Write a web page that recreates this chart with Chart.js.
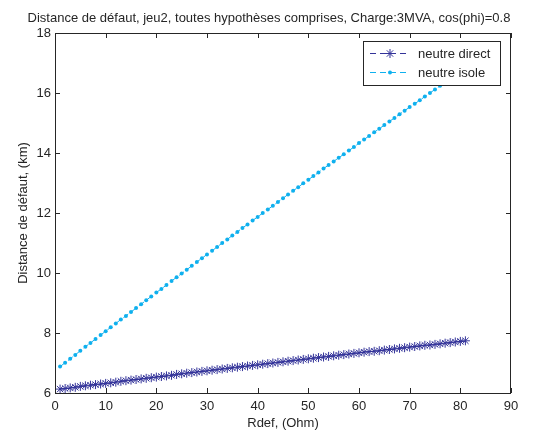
<!DOCTYPE html>
<html>
<head>
<meta charset="utf-8">
<script src="https://cdn.jsdelivr.net/npm/chart.js@4"></script>
<style>
  html, body { margin: 0; padding: 0; background: #fff; }
  #wrap { width: 546px; height: 430px; }
</style>
</head>
<body>
<div id="wrap"><canvas id="myChart" width="546" height="430"></canvas></div>
<script>
const titre = 'Distance de défaut, jeu2, toutes hypothèses comprises, Charge:3MVA, cos(phi)=0.8';
const xLabel = 'Rdef, (Ohm)';
const yLabel = 'Distance de défaut, (km)';
const seriesNames = ['neutre direct', 'neutre isole'];

const rdef = [1, 2, 3, 4, 5, 6, 7, 8, 9, 10, 11, 12, 13, 14, 15, 16, 17, 18, 19, 20,
  21, 22, 23, 24, 25, 26, 27, 28, 29, 30, 31, 32, 33, 34, 35, 36, 37, 38, 39, 40,
  41, 42, 43, 44, 45, 46, 47, 48, 49, 50, 51, 52, 53, 54, 55, 56, 57, 58, 59, 60,
  61, 62, 63, 64, 65, 66, 67, 68, 69, 70, 71, 72, 73, 74, 75, 76, 77, 78, 79, 80, 81];

const neutreDirect = [6.13, 6.15, 6.17, 6.19, 6.22, 6.24, 6.26, 6.28, 6.30, 6.32,
  6.34, 6.36, 6.39, 6.41, 6.43, 6.45, 6.47, 6.49, 6.51, 6.53,
  6.55, 6.57, 6.59, 6.62, 6.64, 6.66, 6.68, 6.70, 6.72, 6.74,
  6.76, 6.78, 6.80, 6.82, 6.84, 6.86, 6.88, 6.90, 6.92, 6.94,
  6.96, 6.98, 7.00, 7.02, 7.04, 7.06, 7.08, 7.10, 7.12, 7.14,
  7.16, 7.18, 7.20, 7.22, 7.24, 7.26, 7.28, 7.30, 7.32, 7.34,
  7.36, 7.38, 7.39, 7.41, 7.43, 7.45, 7.47, 7.49, 7.51, 7.53,
  7.55, 7.57, 7.59, 7.60, 7.62, 7.64, 7.66, 7.68, 7.70, 7.72, 7.74];

const neutreIsole = [6.88, 7.01, 7.14, 7.27, 7.41, 7.54, 7.67, 7.80, 7.93, 8.06,
  8.19, 8.32, 8.45, 8.57, 8.70, 8.83, 8.96, 9.09, 9.22, 9.35,
  9.47, 9.60, 9.73, 9.86, 9.98, 10.11, 10.24, 10.37, 10.49, 10.62,
  10.74, 10.87, 11.00, 11.12, 11.25, 11.37, 11.50, 11.62, 11.75, 11.87,
  12.00, 12.12, 12.24, 12.37, 12.49, 12.62, 12.74, 12.86, 12.99, 13.11,
  13.23, 13.35, 13.48, 13.60, 13.72, 13.84, 13.96, 14.08, 14.20, 14.33,
  14.45, 14.57, 14.69, 14.81, 14.93, 15.05, 15.17, 15.29, 15.41, 15.53,
  15.64, 15.76, 15.88, 16.00, 16.12, 16.24, 16.35, 16.47, 16.59, 16.71, 16.82];

const xTicks = [0, 10, 20, 30, 40, 50, 60, 70, 80, 90];
const yTicks = [6, 8, 10, 12, 14, 16, 18];

const couleurDirect = '#333399';
const couleurIsole = '#0fb0ee';
const texte = '#262626';
const police = '"Liberation Sans", Arial, Helvetica, sans-serif';

Chart.defaults.font.family = police;
Chart.defaults.font.size = 13;
Chart.defaults.color = texte;

// axes façon matlab : cadre, graduations vers l'intérieur, titres, légende dans le coin
const cadreMatlab = {
  id: 'cadreMatlab',
  afterDatasetsDraw(chart) {
    const ctx = chart.ctx;
    const a = chart.chartArea;
    const sx = chart.scales.x, sy = chart.scales.y;
    ctx.save();
    ctx.strokeStyle = '#262626';
    ctx.lineWidth = 1;
    ctx.beginPath();
    xTicks.forEach(function (t) {
      const px = Math.round(sx.getPixelForValue(t)) + 0.5;
      ctx.moveTo(px, a.bottom); ctx.lineTo(px, a.bottom - 5);
      ctx.moveTo(px, a.top); ctx.lineTo(px, a.top + 5);
    });
    yTicks.forEach(function (t) {
      const py = Math.round(sy.getPixelForValue(t)) + 0.5;
      ctx.moveTo(a.left, py); ctx.lineTo(a.left + 5, py);
      ctx.moveTo(a.right, py); ctx.lineTo(a.right - 5, py);
    });
    ctx.stroke();
    ctx.strokeRect(Math.round(a.left) + 0.5, Math.round(a.top) + 0.5,
      Math.round(a.right - a.left) - 1, Math.round(a.bottom - a.top));

    // légende
    const lx = 363, ly = 41, lw = 137, lh = 44;
    ctx.fillStyle = '#fff';
    ctx.fillRect(lx, ly, lw, lh);
    ctx.strokeStyle = '#262626';
    ctx.strokeRect(lx + 0.5, ly + 0.5, lw, lh);
    const rows = [
      { name: seriesNames[0], color: couleurDirect, y: 53, style: 'star' },
      { name: seriesNames[1], color: couleurIsole, y: 72, style: 'circle' }
    ];
    rows.forEach(function (r) {
      ctx.strokeStyle = r.color;
      ctx.lineWidth = 1;
      ctx.setLineDash([6, 4]);
      ctx.beginPath();
      ctx.moveTo(370, r.y + 0.5); ctx.lineTo(410, r.y + 0.5);
      ctx.stroke();
      ctx.setLineDash([]);
      if (r.style === 'circle') {
        ctx.fillStyle = r.color;
        ctx.beginPath(); ctx.arc(390, r.y + 0.5, 2, 0, Math.PI * 2); ctx.fill();
      } else {
        Chart.helpers.drawPoint(ctx, {
          pointStyle: 'star', radius: 4.5, borderWidth: 1, rotation: 0
        }, 390, r.y + 0.5);
      }
      ctx.fillStyle = texte;
      ctx.font = '13px ' + police;
      ctx.textAlign = 'left';
      ctx.textBaseline = 'middle';
      ctx.fillText(r.name, 418, r.y + 1);
    });

    // titres
    ctx.fillStyle = texte;
    ctx.font = '13px ' + police;
    ctx.textAlign = 'center';
    ctx.textBaseline = 'alphabetic';
    ctx.fillText(titre, 269, 22);
    ctx.fillText(xLabel, (a.left + a.right) / 2, 427);
    ctx.translate(27, (a.top + a.bottom) / 2);
    ctx.rotate(-Math.PI / 2);
    ctx.fillText(yLabel, 0, 0);
    ctx.restore();
  }
};

const ctx = document.getElementById('myChart');
new Chart(ctx, {
  type: 'scatter',
  data: {
    datasets: [{
      label: seriesNames[0],
      data: rdef.map(function (x, i) { return { x: x, y: neutreDirect[i] }; }),
      showLine: true,
      borderColor: couleurDirect,
      backgroundColor: couleurDirect,
      borderWidth: 1,
      borderDash: [6, 4],
      pointStyle: 'star',
      pointRadius: 4.5,
      pointBorderWidth: 1,
      pointBorderColor: couleurDirect
    }, {
      label: seriesNames[1],
      data: rdef.map(function (x, i) { return { x: x, y: neutreIsole[i] }; }),
      showLine: true,
      borderColor: couleurIsole,
      backgroundColor: couleurIsole,
      borderWidth: 1,
      borderDash: [6, 4],
      pointStyle: 'circle',
      pointRadius: 2,
      pointBorderWidth: 0
    }]
  },
  options: {
    responsive: false,
    animation: false,
    layout: { padding: { top: 33, right: 35, left: 0, bottom: 0 } },
    plugins: {
      legend: { display: false },
      title: { display: false },
      tooltip: { enabled: false }
    },
    scales: {
      x: {
        type: 'linear',
        min: 0, max: 90,
        grid: { display: false, drawTicks: false },
        border: { display: false },
        ticks: { stepSize: 10, padding: 6, maxRotation: 0 },
        afterFit: function (s) { s.height = 37; }
      },
      y: {
        min: 6, max: 18,
        grid: { display: false, drawTicks: false },
        border: { display: false },
        ticks: { stepSize: 2, padding: 4 },
        afterFit: function (s) { s.width = 55; }
      }
    }
  },
  plugins: [cadreMatlab]
});
</script>
</body>
</html>
